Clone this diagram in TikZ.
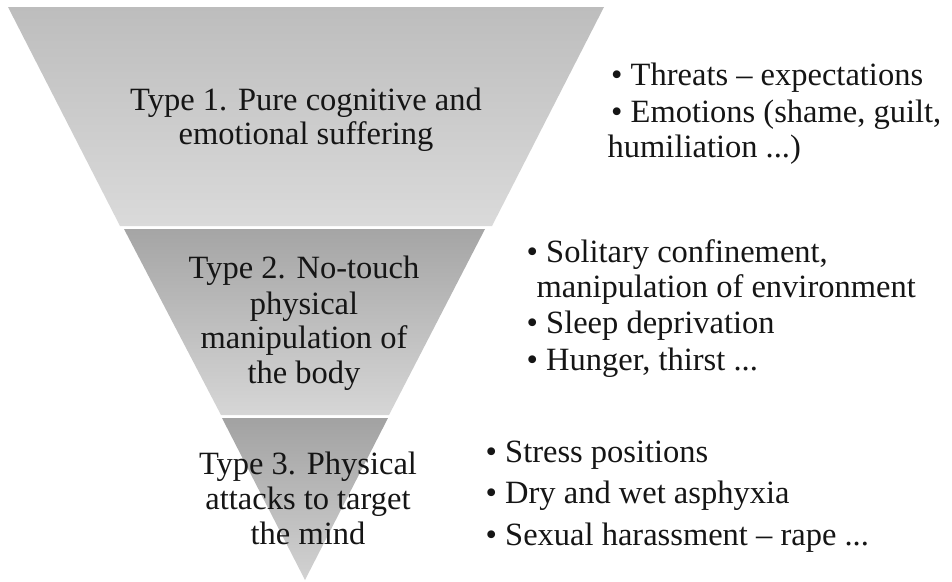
\documentclass[tikz,border=0pt]{standalone}
\usepackage{fontspec}
\setmainfont{Liberation Serif}
\definecolor{gOneA}{HTML}{BDBDBD}
\definecolor{gOneB}{HTML}{DADADA}
\definecolor{gTwoA}{HTML}{A5A5A5}
\definecolor{gTwoB}{HTML}{D6D6D6}
\definecolor{gThrA}{HTML}{A2A2A2}
\definecolor{gThrB}{HTML}{D2D2D2}
\definecolor{txt}{HTML}{151515}
\begin{document}
\begin{tikzpicture}[x=1pt,y=1pt,
  lbl/.style={inner sep=0pt, anchor=base, font=\fontsize{32.5}{36}\selectfont, text=txt},
  itm/.style={inner sep=0pt, anchor=base west, font=\fontsize{32.5}{36}\selectfont, text=txt},
  band/.style={shading angle=45}]
\useasboundingbox (0,0) rectangle (952,-581);
% bands of the inverted pyramid
\shade[band, top color=gOneA, bottom color=gOneB]
  (8,-7) -- (604,-7) -- (492,-226) -- (120,-226) -- cycle;
\shade[band, top color=gTwoA, bottom color=gTwoB]
  (124,-229) -- (485,-229) -- (389,-415) -- (221,-415) -- cycle;
\shade[band, top color=gThrA, bottom color=gThrB]
  (222,-418) -- (388,-418) -- (305,-580) -- cycle;
% left labels
\node[lbl] (t1a) at (306,-110) {Type 1. Pure cognitive and};
\node[lbl] (t1b) at (306,-144) {emotional suffering};
\node[lbl] (t2a) at (304,-278.5) {Type 2. No-touch};
\node[lbl] (t2b) at (304,-314) {physical};
\node[lbl] (t2c) at (304,-348) {manipulation of};
\node[lbl] (t2d) at (304,-383) {the body};
\node[lbl] (t3a) at (308,-474) {Type 3. Physical};
\node[lbl] (t3b) at (308,-509) {attacks to target};
\node[lbl] (t3c) at (308,-544) {the mind};
% right bullet lists
\node[itm] (r1a) at (611,-85) {• Threats – expectations};
\node[itm] (r1b) at (611,-122) {• Emotions (shame, guilt,};
\node[itm] (r1c) at (607.5,-157) {humiliation ...)};
\node[itm] (r2a) at (526.5,-262) {• Solitary confinement,};
\node[itm] (r2b) at (536.5,-297) {manipulation of environment};
\node[itm] (r2c) at (526.5,-333) {• Sleep deprivation};
\node[itm] (r2d) at (526.5,-370) {• Hunger, thirst ...};
\node[itm] (r3a) at (485.5,-462) {• Stress positions};
\node[itm] (r3b) at (485.5,-503) {• Dry and wet asphyxia};
\node[itm] (r3c) at (485.5,-545) {• Sexual harassment – rape ...};
\end{tikzpicture}
\end{document}
